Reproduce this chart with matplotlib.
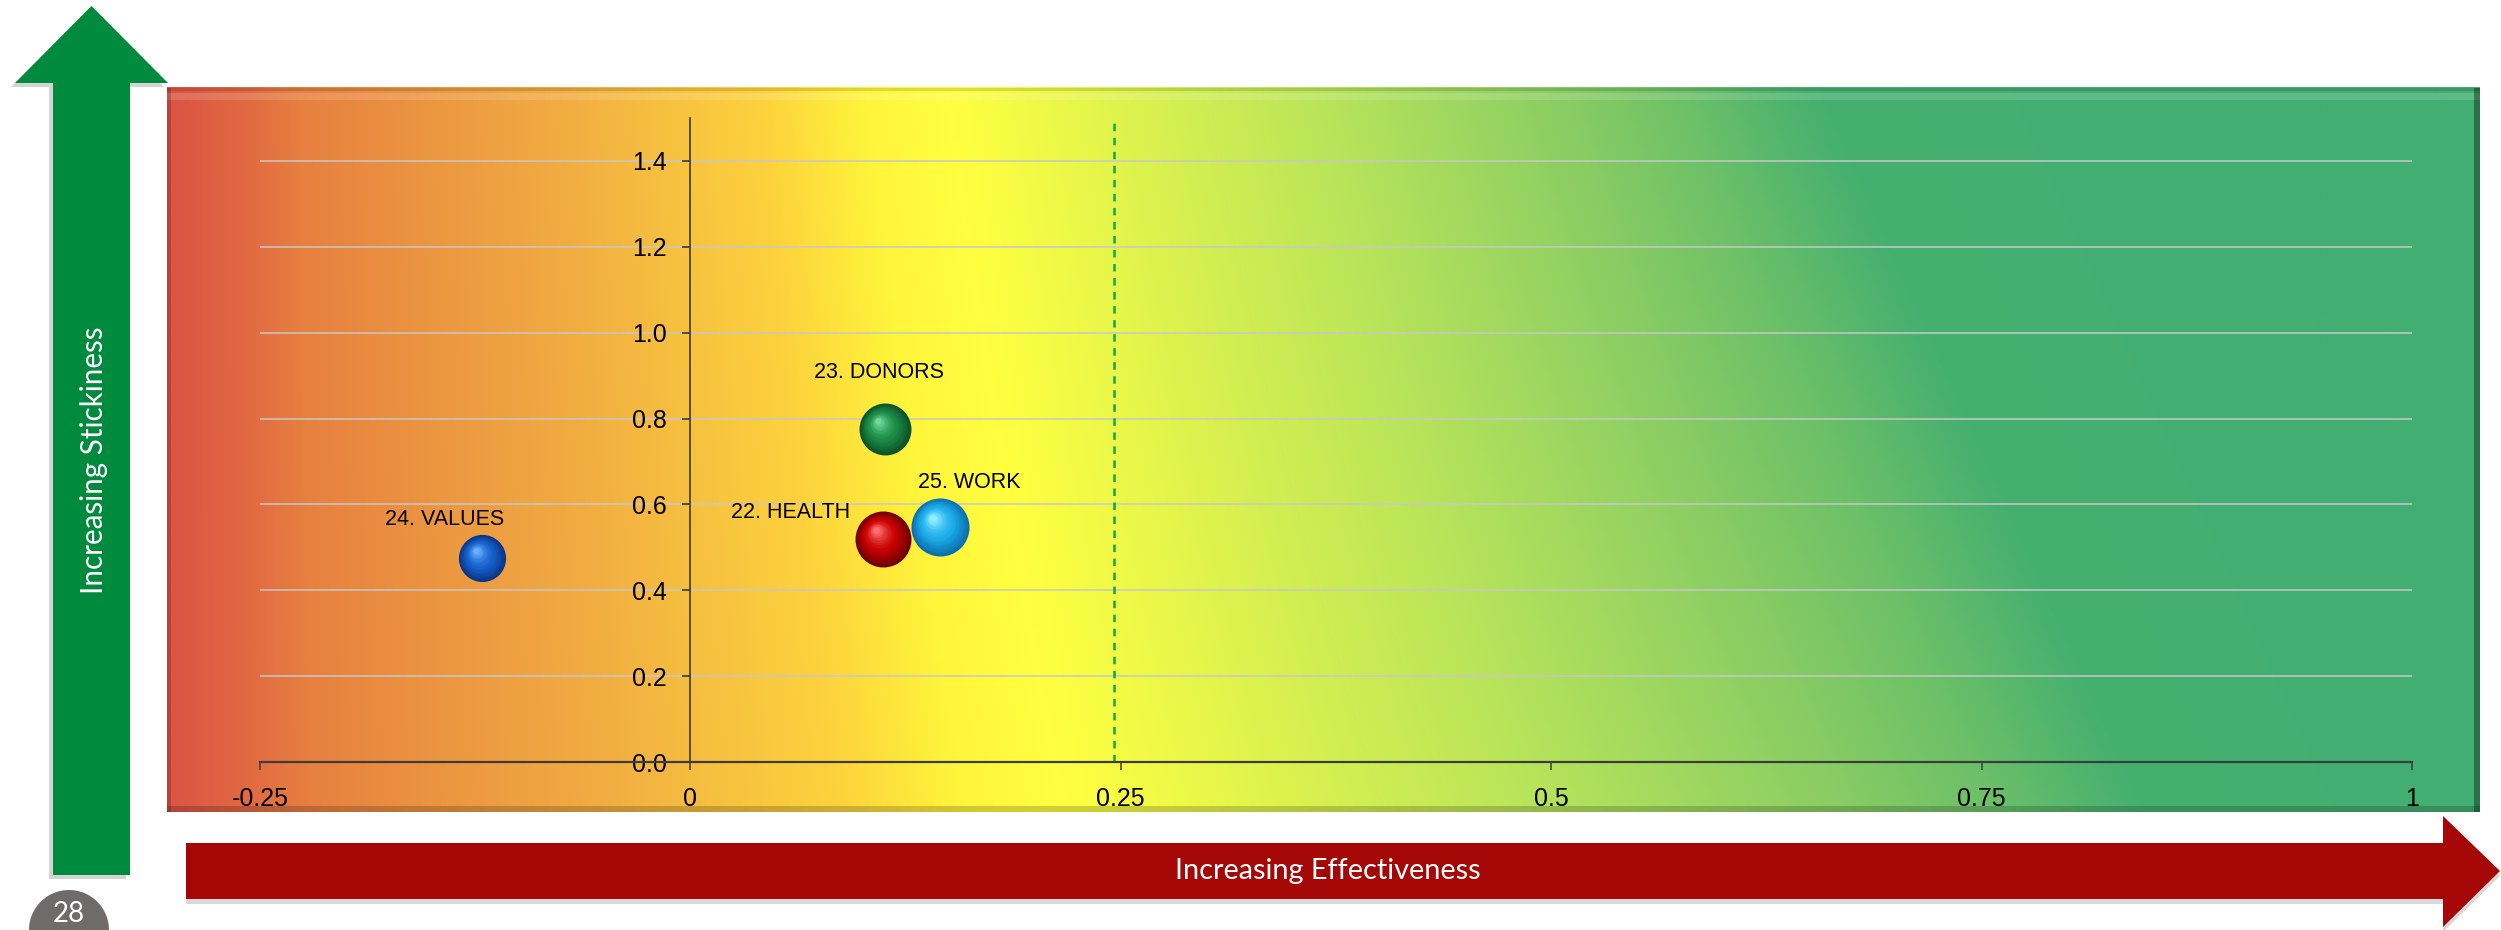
import numpy as np
import matplotlib
matplotlib.use("Agg")
import matplotlib.pyplot as plt
import matplotlib.transforms as mtransforms
from matplotlib.patches import Polygon, Rectangle, Circle
from matplotlib.colors import to_rgb

plt.rcParams["font.family"] = ["Liberation Sans", "DejaVu Sans"]
plt.rcParams["lines.scale_dashes"] = False

# data
names = ["22. HEALTH", "23. DONORS", "24. VALUES", "25. WORK"]
effectiveness = [0.112, 0.113, -0.121, 0.145]
stickiness = [0.52, 0.775, 0.475, 0.548]
bubble_value = [0.93, 0.80, 0.66, 1.00]
threshold = 0.246

x_ticks = [-0.25, 0, 0.25, 0.5, 0.75, 1]
x_tick_labels = ["-0.25", "0", "0.25", "0.5", "0.75", "1"]
y_ticks = [0.0, 0.2, 0.4, 0.6, 0.8, 1.0, 1.2, 1.4]
y_tick_labels = ["0.0", "0.2", "0.4", "0.6", "0.8", "1.0", "1.2", "1.4"]

# styling
bubble_colors = {
    "22. HEALTH": ("#6e0000", "#c80000", "#ff7070"),
    "23. DONORS": ("#0a5226", "#1a8a45", "#70d89c"),
    "24. VALUES": ("#0a3488", "#1560cc", "#6cb0ff"),
    "25. WORK": ("#0a6fae", "#1cacea", "#90f0ff"),
}
label_offsets = {  # points
    "22. HEALTH": (-67, 19),
    "23. DONORS": (-4, 41),
    "24. VALUES": (-27, 28),
    "25. WORK": (21, 32),
}

W, H = 2501, 930
fig = plt.figure(figsize=(W / 100, H / 100), dpi=100)
fig.patch.set_facecolor("white")

# background layer in pixel coordinates
bg = fig.add_axes([0, 0, 1, 1])
bg.set_xlim(0, W)
bg.set_ylim(H, 0)
bg.axis("off")

# gradient panel
px0, px1, py0, py1 = 167, 2480, 88, 812
stop_x = [175, 248, 306, 452, 598, 690, 817, 934, 1036, 1153, 1270, 1474, 1620, 1766, 1913, 2059, 2450]
stop_c = ["#dc5544", "#e26a42", "#e78040", "#ec9841", "#f2ae42", "#f6bf40", "#fdd23d", "#fff53b",
          "#ffff40", "#ecf848", "#d8f050", "#b8e45a", "#a0d860", "#88cc64", "#6cc068", "#46b070", "#42ae72"]
stop_rgb = np.array([to_rgb(c) for c in stop_c])
xs = np.linspace(px0, px1, 600)
ys = np.linspace(py0, py1, 200)
XX, YY = np.meshgrid(xs, ys)
a = 0.45 * np.clip((XX - 167) / 1599, 0, 1) ** 1.5
T = XX + a * (630 - YY)
img = np.stack([np.interp(T, stop_x, stop_rgb[:, k]) for k in range(3)], axis=-1)
bg.imshow(img, extent=[px0, px1, py1, py0], aspect="auto", interpolation="bilinear", zorder=1)
# bevel
bg.add_patch(Rectangle((px0, 93), px1 - px0, 7, color="white", alpha=0.15, lw=0, zorder=2))
bg.add_patch(Rectangle((px0, py0), px1 - px0, 3, color="black", alpha=0.12, lw=0, zorder=2))
bg.add_patch(Rectangle((px0, py0), 4, py1 - py0, color="black", alpha=0.18, lw=0, zorder=2))
bg.add_patch(Rectangle((px1 - 6, py0), 6, py1 - py0, color="black", alpha=0.35, lw=0, zorder=2))
bg.add_patch(Rectangle((px0, py1 - 6), px1 - px0, 6, color="black", alpha=0.18, lw=0, zorder=2))

# vertical green arrow
up = [(53, 875), (53, 83), (15, 83), (91.5, 6), (168, 83), (130, 83), (130, 875)]
bg.add_patch(Polygon([(x - 4, y + 4) for x, y in up], closed=True, color="#b8b8b8", alpha=0.6, lw=0, zorder=2))
bg.add_patch(Polygon(up, closed=True, color="#008a3e", lw=0, zorder=3))
bg.text(94, 460, "Increasing Stickiness", rotation=90, color="white", fontsize=21.3,
        family=["Lato", "DejaVu Sans"], ha="center", va="center", zorder=4)

# horizontal red arrow
right = [(186, 843), (2443, 843), (2443, 816), (2500, 871), (2443, 927), (2443, 899), (186, 899)]
bg.add_patch(Polygon([(x, y + 5) for x, y in right], closed=True, color="#c0c0c0", alpha=0.6, lw=0, zorder=2))
bg.add_patch(Polygon(right, closed=True, color="#a50606", lw=0, zorder=3))
bg.text(1328, 871, "Increasing Effectiveness", color="white", fontsize=20.8,
        family=["Lato", "DejaVu Sans"], ha="center", va="center", zorder=4)

# page number
bg.add_patch(Circle((69, 930), 40, color="#6f6b6b", lw=0, zorder=3))
bg.text(69, 914, "28", color="white", fontsize=20, family=["Lato", "DejaVu Sans"],
        ha="center", va="center", zorder=4)

# chart axes
ax = fig.add_axes([260 / W, (H - 762) / H, 2152 / W, (762 - 118) / H])
ax.patch.set_alpha(0)
ax.set_xlim(-0.25, 1)
ax.set_ylim(0, 1.5)
ax.spines["left"].set_position(("data", 0))
ax.spines["top"].set_visible(False)
ax.spines["right"].set_visible(False)
ax.spines["left"].set_color("#303030")
ax.spines["left"].set_linewidth(1.1)
ax.spines["bottom"].set_color("#3c3c3c")
ax.spines["bottom"].set_linewidth(1.6)

ax.set_xticks(x_ticks)
ax.set_xticklabels(x_tick_labels)
ax.set_yticks(y_ticks)
ax.set_yticklabels(y_tick_labels)
ax.tick_params(axis="x", direction="out", length=5.8, width=1.1, pad=12, labelsize=18, color="#3c3c3c")
ax.tick_params(axis="y", direction="out", length=5.5, width=1.1, pad=11.5, labelsize=18, color="#303030")
ax.yaxis.grid(True, color="#c8c8c8", lw=1.1)
ax.set_axisbelow(True)

ax.axvline(threshold, color="#12a84a", lw=1.8, dashes=(5.4, 4.7), zorder=2)

# glossy bubbles
s_max = 1747
n_layers = 16
for name, x, y, v in zip(names, effectiveness, stickiness, bubble_value):
    dark, mid, light = [np.array(to_rgb(c)) for c in bubble_colors[name]]
    s = s_max * v
    r_pt = np.sqrt(s) / 2
    for k in range(n_layers):
        f = k / (n_layers - 1)
        if f < 0.45:
            col = dark + (mid - dark) * (f / 0.45)
        else:
            col = mid + (light - mid) * ((f - 0.45) / 0.55) ** 1.5
        size = s * (1 - 0.88 * f) ** 2
        dx, dy = -0.25 * r_pt * f, 0.3 * r_pt * f
        tr = ax.transData + mtransforms.ScaledTranslation(dx / 72, dy / 72, fig.dpi_scale_trans)
        ax.scatter([x], [y], s=size, color=col, lw=0, transform=tr, zorder=3 + k * 0.01)
    ax.annotate(name, (x, y), xytext=label_offsets[name], textcoords="offset points",
                ha="center", va="center", fontsize=15.5, color="black", zorder=5)

fig.savefig("out.png", dpi=100)
